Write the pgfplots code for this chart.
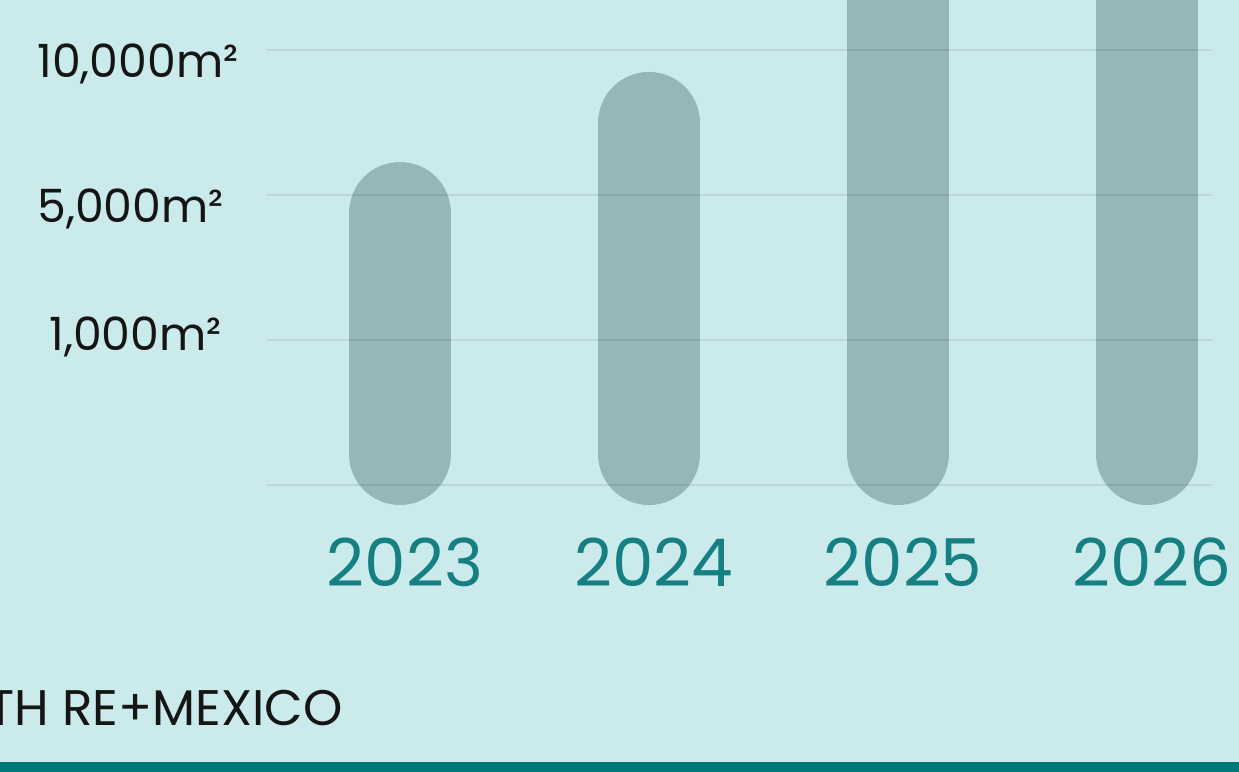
\documentclass[border=0pt]{standalone}
\usepackage{fontspec}
\setmainfont{Poppins}
\usepackage{pgfplots}
\pgfplotsset{compat=1.18}

\definecolor{bgcol}{HTML}{CBEAEB}
\definecolor{barcol}{HTML}{96B7B9}
\definecolor{yearcol}{HTML}{167F82}
\definecolor{stripcol}{HTML}{00797C}
\definecolor{labelcol}{HTML}{151515}

\begin{document}
\begin{tikzpicture}
\useasboundingbox (0,0) rectangle (619.5pt,386pt);
\fill[bgcol] (0,0) rectangle (619.5pt,386pt);

\begin{axis}[
    at={(133.5pt,126pt)}, anchor=south west,
    scale only axis, width=472.5pt, height=260pt,
    xmin=-0.534, xmax=3.261,
    ymin=-0.241, ymax=3.345,
    axis line style={draw=none},
    major tick length=0pt,
    xtick={0,1,2,3},
    xticklabels={2023,2024,2025,2026},
    ytick={0,1,2,3},
    yticklabels={{},{\raisebox{8.5pt}{\hspace*{6pt}1,000m²}},{5,000m²},{10,000m²}},
    ymajorgrids=true,
    grid style={black, opacity=0.08, line width=1.4pt},
    axis on top,
    xticklabel style={font=\fontsize{33}{36}\selectfont, text=yearcol,
        anchor=base, xshift=2.5pt, yshift=-33.5pt},
    yticklabel style={font=\fontsize{22.9}{26}\selectfont, text=labelcol,
        anchor=base west, inner sep=0pt, xshift=-115pt, yshift=-13.75pt},
]
\addplot[draw=barcol, line width=51pt, line cap=round, unbounded coords=jump]
coordinates {
    (0,0.214) (0,1.876)
    (0,nan)
    (1,0.214) (1,2.497)
    (1,nan)
    (2,0.214) (2,4.2)
    (2,nan)
    (3,0.214) (3,4.2)
};
\end{axis}

\fill[stripcol] (0,0) rectangle (619.5pt,5pt);
\node[anchor=base east, inner sep=0pt, font=\fontsize{25}{28}\selectfont,
      text=labelcol] at (171.5pt,23pt) {TH RE+MEXICO};
\end{tikzpicture}
\end{document}
